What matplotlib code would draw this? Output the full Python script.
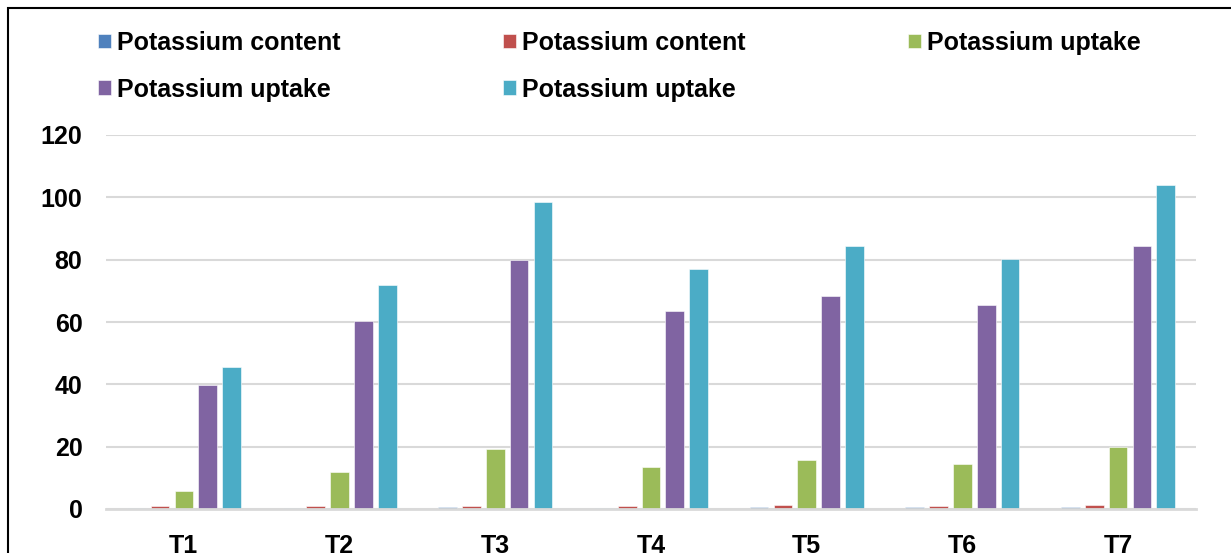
import numpy as np
import matplotlib
matplotlib.use("Agg")
import matplotlib.pyplot as plt
from matplotlib.patches import Rectangle

# data
treatments = ["T1", "T2", "T3", "T4", "T5", "T6", "T7"]
k_content_a = [0.25, 0.25, 0.55, 0.25, 0.55, 0.55, 0.55]
k_content_b = [1.0, 1.0, 1.1, 0.95, 1.15, 1.0, 1.15]
k_uptake_a = [5.7, 11.9, 19.2, 13.5, 15.7, 14.4, 19.8]
k_uptake_b = [39.8, 60.3, 79.8, 63.5, 68.4, 65.4, 84.3]
k_uptake_c = [45.5, 71.9, 98.4, 77.0, 84.4, 80.2, 103.9]
series_names = ["Potassium content", "Potassium content", "Potassium uptake",
                "Potassium uptake", "Potassium uptake"]
yticks = [0, 20, 40, 60, 80, 100, 120]

colors = ["#4F81BD", "#C0504D", "#9BBB59", "#8064A2", "#4BACC6"]

plt.rcParams['font.family'] = ['Liberation Sans', 'DejaVu Sans']
plt.rcParams['font.weight'] = 'bold'

W, H = 1231, 553
fig = plt.figure(figsize=(W/100, H/100), dpi=100)
ax = fig.add_axes([106/W, (H-509)/H, (1196-106)/W, (509-135)/H])

x = np.arange(len(treatments))
step = 0.153
width = 0.12
all_series = [k_content_a, k_content_b, k_uptake_a, k_uptake_b, k_uptake_c]
bars = []
for i, vals in enumerate(all_series):
  b = ax.bar(x + (i-2)*step, vals, width, color=colors[i], label=series_names[i],
             edgecolor="white", linewidth=0.4, zorder=3)
  bars.append(b)

ax.set_xlim(-0.5, len(treatments)-0.5)
ax.set_ylim(0, 120)
ax.set_yticks(yticks)
ax.set_xticks(x)
ax.set_xticklabels(treatments)
ax.tick_params(axis="both", length=0, labelsize=18)
ax.tick_params(axis="x", pad=18)
ax.tick_params(axis="y", pad=17)
for lab in ax.get_xticklabels() + ax.get_yticklabels():
  lab.set_fontweight("bold")

ax.grid(axis="y", color="#D9D9D9", linewidth=1.5, zorder=0)
for s in ["top", "right", "left"]:
  ax.spines[s].set_visible(False)
ax.spines["bottom"].set_color("#D9D9D9")
ax.spines["bottom"].set_linewidth(2)
ax.spines["bottom"].set_zorder(4)

# legend laid out row by row: reorder for column-major filling
order = [0, 3, 1, 4, 2]
leg = fig.legend([bars[i] for i in order], [series_names[i] for i in order],
                 ncol=3, loc="upper left", bbox_to_anchor=(98/W, 1-31/H),
                 frameon=False, borderpad=0, borderaxespad=0,
                 handlelength=0.52, handleheight=0.52,
                 handletextpad=0.24, columnspacing=6.5, labelspacing=0.9,
                 prop={"size": 18, "weight": "bold"})

# chart border (cut at right and bottom)
fig.patches.append(Rectangle((8/W, -0.1), 1.2, 1.1 - 8/H, transform=fig.transFigure,
                             fill=False, edgecolor="black", linewidth=1.5))

fig.savefig("out.png", dpi=100)
